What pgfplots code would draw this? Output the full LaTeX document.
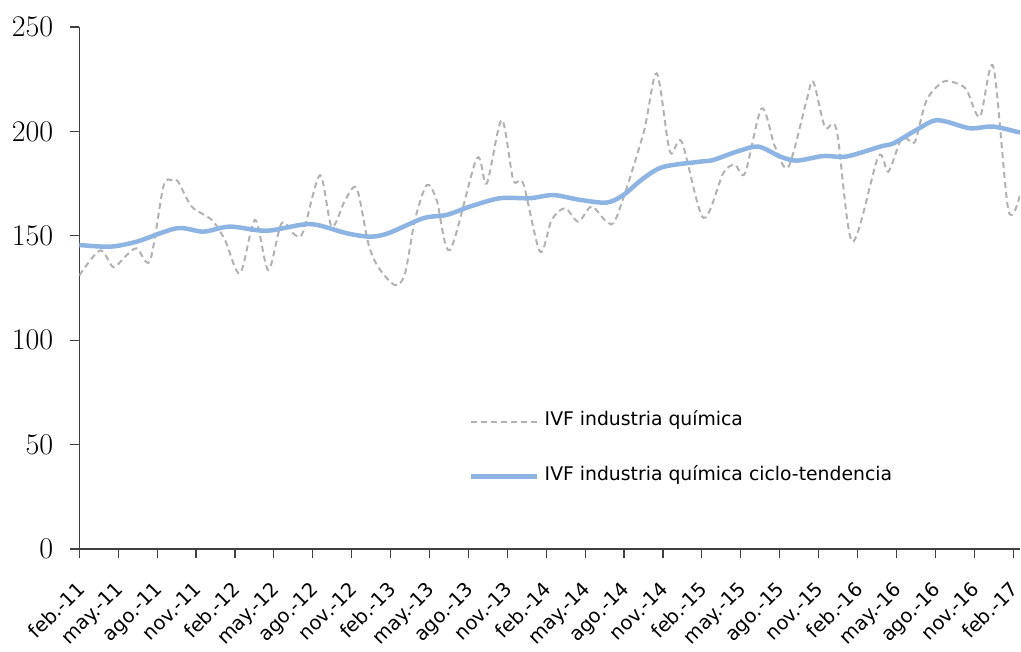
\documentclass[border=0pt]{standalone}
\usepackage{pgfplots}
\pgfplotsset{compat=1.18}
\usepackage{fontspec}
\setsansfont{DejaVu Sans}
\definecolor{trend}{RGB}{141,180,226}
\definecolor{ivf}{RGB}{178,178,178}
\definecolor{axisgray}{RGB}{64,64,64}

\pgfplotstableread{
m v
0 131
1.6 143
2.62 135
3.52 140
4.43 144
5.45 138
6.48 173.5
7.12 176.7
7.61 176
8.67 164
10.21 157.6
11.23 148
12.39 132
13.55 157.6
14.57 133.6
15.6 156
16.63 150.4
17.27 152
18.56 179
19.46 154.4
20.49 167
21.39 172.7
22.28 146.4
23.05 135
24.34 126.4
25.11 132
25.88 157.6
26.79 174.3
27.56 167
28.58 143.2
30.64 187
31.41 175
32.57 205.5
33.46 176.7
34.23 175
35.52 142.4
36.42 157.6
37.45 163.2
38.47 156.8
39.5 164
40.66 156.8
41.43 159
43.49 199
44.52 227.8
45.54 190.3
46.45 195
48.11 158.6
49.65 180
50.55 184
51.33 180
52.61 211
53.64 192.7
54.67 183
56.08 215
56.59 223.8
57.49 202
58.39 200.7
59.6 147.2
61.6 187.9
62.37 180.7
63.27 195
63.79 196.6
64.43 195
65.33 215
66.62 223.8
67.65 223
68.42 219.8
69.44 207
70.47 231
71.63 162.4
72.53 169.5
}\ivfdata

\pgfplotstableread{
m v
0 145.6
2.37 144.8
4.43 147.2
7.51 153.6
9.56 152
11.62 154.4
14.45 152.4
17.79 155.6
20.62 151.2
22.41 149.6
23.82 151.2
26.52 158.4
28.33 160
30.12 164
32.44 168
34.75 168
36.55 169.5
38.61 167.2
40.66 165.9
41.94 169.5
43.49 177.5
45.03 183
47.86 185.5
48.88 186.3
50.69 190.3
52.35 192.7
54.02 188
55.31 186
57.36 188.2
59.17 188
61.74 192.7
62.77 194.3
64.32 199.9
65.86 205.1
66.89 204.6
68.68 201.5
70.47 202.3
72.53 199.4
}\trenddata

\begin{document}
\begin{tikzpicture}
\begin{axis}[
  scale only axis, width=940.7pt, height=522pt,
  xmin=0, xmax=72.53, ymin=0, ymax=250,
  axis x line*=bottom, axis y line*=left,
  axis line style={axisgray, line width=1.2pt},
  tick style={axisgray, line width=1.2pt},
  tick align=outside, major tick length=9pt,
  /pgf/number format/assume math mode=true,
  xtick={0,3,...,72},
  xticklabels={feb.-11,may.-11,ago.-11,nov.-11,feb.-12,may.-12,ago.-12,nov.-12,feb.-13,may.-13,ago.-13,nov.-13,feb.-14,may.-14,ago.-14,nov.-14,feb.-15,may.-15,ago.-15,nov.-15,feb.-16,may.-16,ago.-16,nov.-16,feb.-17},
  ytick={0,50,...,250},
  yticklabel style={font=\rmfamily\fontsize{30}{32}\selectfont, anchor=east, inner sep=0pt, xshift=-17pt},
  xticklabel style={font=\sffamily\fontsize{19.5}{22}\selectfont, anchor=north east, inner sep=0pt, xshift=-4pt, yshift=-22pt, rotate=45},
  legend style={draw=none, fill=none, at={(0.4143,0.265)}, anchor=north west, inner sep=0pt, row sep=38pt, column sep=5pt, font=\sffamily\fontsize{18.8}{22}\selectfont, nodes={inner sep=0pt}},
  legend cell align=left,
  legend image code/.code={\draw[#1] (0pt,-3pt) -- (66pt,-3pt);},
]
\addplot[ivf, line width=2pt, dash pattern=on 6pt off 4pt, smooth] table[x=m,y=v]{\ivfdata};
\addlegendentry{IVF industria química}
\addplot[trend, line width=4.5pt, smooth] table[x=m,y=v]{\trenddata};
\addlegendentry{IVF industria química ciclo-tendencia}
\end{axis}
\pgfresetboundingbox
\path ([shift={(-79.3pt,-103pt)}]current axis.south west) rectangle ([shift={(1pt,27pt)}]current axis.north east);
\end{tikzpicture}
\end{document}
